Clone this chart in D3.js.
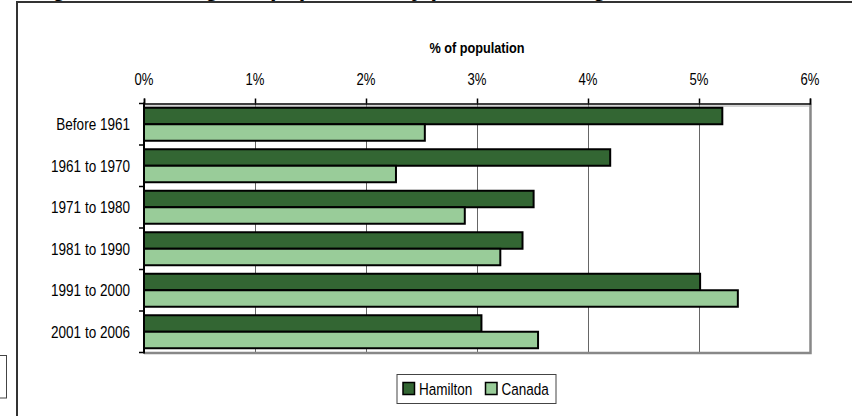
<!DOCTYPE html>
<html><head><meta charset="utf-8">
<script src="https://cdn.jsdelivr.net/npm/d3@7"></script>
<style>
html,body{margin:0;padding:0;background:#fff;}
svg{display:block;}
text{font-family:"Liberation Sans",Arial,sans-serif;}
</style>
</head><body>
<svg id="c" width="852" height="416"></svg>
<script>
const titleText = "Figure 10: Immigrant population by period of immigration, Hamilton and Canada, 2006";
const axisTitle = "% of population";
const categories = ["Before 1961","1961 to 1970","1971 to 1980","1981 to 1990","1991 to 2000","2001 to 2006"];
const seriesNames = ["Hamilton","Canada"];
const hamilton = [5.21, 4.20, 3.51, 3.41, 5.01, 3.04];
const canada   = [2.53, 2.27, 2.89, 3.21, 5.35, 3.55];
const tickValues = [0,1,2,3,4,5,6];
const tickLabels = ["0%","1%","2%","3%","4%","5%","6%"];
const colors = ["#336633","#99CC99"];

const NARROW = 0.82;
const svg = d3.select("#c");
const L = 144, R = 810, T = 103.5, B = 352.5;

function narrowText(sel, x, y, txt, size, anchor, bold){
  const t = sel.append("text")
    .attr("transform", `translate(${x},${y}) scale(${NARROW},1)`)
    .attr("font-size", size).attr("fill","#000")
    .attr("text-anchor", anchor || "start").text(txt);
  if (bold) t.attr("font-weight","bold");
  return t;
}

// outer frame fragments
svg.append("line").attr("x1",17).attr("x2",17).attr("y1",1).attr("y2",416).attr("stroke","#333").attr("stroke-width",2);
svg.append("line").attr("x1",17).attr("x2",852).attr("y1",2).attr("y2",2).attr("stroke","#333").attr("stroke-width",2);
svg.append("rect").attr("x",-1).attr("y",355.5).attr("width",7.5).attr("height",42.5).attr("fill","none").attr("stroke","#444").attr("stroke-width",1);

// title (cropped at top in the reference)
svg.append("text").attr("x",31).attr("y",-4.5)
  .attr("font-weight","bold").attr("font-size",23.5).attr("fill","#000").text(titleText);

const x = d3.scaleLinear().domain([0,6]).range([L,R]);
const y = d3.scaleBand().domain(categories).range([T,B]).paddingInner(0).paddingOuter(0);
const ys = d3.scaleBand().domain(seriesNames).range([0,y.bandwidth()]).paddingInner(0).paddingOuter(0.258);

// gridlines
svg.append("g").selectAll("line").data(tickValues.filter(v=>v>0&&v<6)).join("line")
  .attr("x1",d=>x(d)+0.5).attr("x2",d=>x(d)+0.5).attr("y1",T).attr("y2",B).attr("stroke","#666").attr("stroke-width",1);

// plot border right/bottom
svg.append("path").attr("d",`M${L},${B+0.5}H${R+0.5}V${T}`).attr("fill","none").attr("stroke","#888").attr("stroke-width",2.5);
svg.append("line").attr("x1",L).attr("x2",R).attr("y1",T+2.5).attr("y2",T+2.5).attr("stroke","#aaa").attr("stroke-width",1);

// bars
const data = [hamilton, canada];
seriesNames.forEach((s,si)=>{
  svg.append("g").selectAll("rect").data(categories).join("rect")
    .attr("x",x(0)).attr("y",c=>y(c)+ys(s))
    .attr("width",(c,i)=>x(data[si][i])-x(0)).attr("height",ys.bandwidth())
    .attr("fill",colors[si]).attr("stroke","#000").attr("stroke-width",2);
});

// top axis
const xAxis = d3.axisTop(x).tickValues(tickValues).tickFormat("").tickSize(5);
const gx = svg.append("g").attr("transform",`translate(0,${T})`).call(xAxis);
gx.select(".domain").attr("stroke","#000").attr("stroke-width",1.5);
gx.selectAll(".tick line").attr("stroke","#000").attr("stroke-width",1.5);
gx.selectAll(".tick text").remove();
tickValues.forEach((v,i)=> narrowText(svg, x(v), 84.5, tickLabels[i], 16, "middle"));

// left axis
const bounds = categories.map(c=>y(c)).concat([B]);
svg.append("line").attr("x1",L).attr("x2",L).attr("y1",T-1).attr("y2",B+1).attr("stroke","#000").attr("stroke-width",2);
svg.append("g").selectAll("line").data(bounds).join("line")
  .attr("x1",L-5).attr("x2",L).attr("y1",d=>d).attr("y2",d=>d).attr("stroke","#000").attr("stroke-width",1.5);
categories.forEach(c=> narrowText(svg, 130, y(c)+y.bandwidth()/2+6, c, 16.5, "end"));

// axis title
narrowText(svg, (L+R)/2, 52.5, axisTitle, 15.5, "middle", true);

// legend
const lg = svg.append("g");
lg.append("rect").attr("x",397).attr("y",374.5).attr("width",159).attr("height",29).attr("fill","#fff").attr("stroke","#444").attr("stroke-width",1);
const legX = [403, 485.5];
seriesNames.forEach((s,i)=>{
  lg.append("rect").attr("x",legX[i]).attr("y",382.5).attr("width",11.5).attr("height",12).attr("fill",colors[i]).attr("stroke","#000").attr("stroke-width",1.5);
  narrowText(lg, legX[i]+16, 394.5, s, 16.5, "start");
});
</script>
</body></html>
